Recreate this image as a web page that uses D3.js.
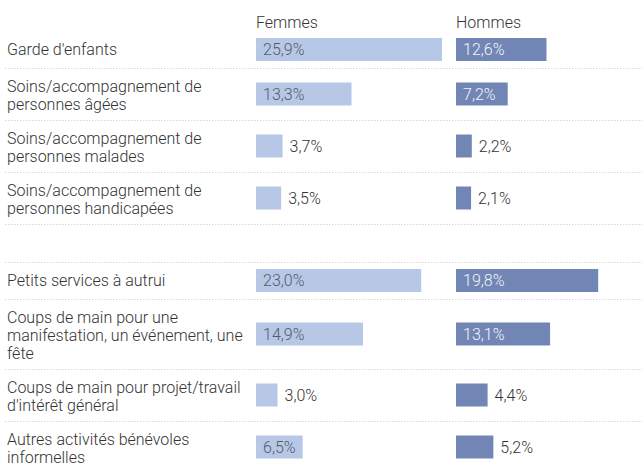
<!DOCTYPE html>
<html>
<head>
<meta charset="utf-8">
<script src="https://cdn.jsdelivr.net/npm/d3@7"></script>
<style>
  body { margin: 0; background: #fff; }
  svg { display: block; font-family: Roboto, "Noto Sans", sans-serif; font-weight: 300; }
</style>
</head>
<body>
<div id="chart"></div>
<script>
const categories = [
  "Garde d'enfants",
  "Soins/accompagnement de personnes âgées",
  "Soins/accompagnement de personnes malades",
  "Soins/accompagnement de personnes handicapées",
  "",
  "Petits services à autrui",
  "Coups de main pour une manifestation, un événement, une fête",
  "Coups de main pour projet/travail d'intérêt général",
  "Autres activités bénévoles informelles"
];
const femmes = [25.9, 13.3, 3.7, 3.5, null, 23.0, 14.9, 3.0, 6.5];
const hommes = [12.6, 7.2, 2.2, 2.1, null, 19.8, 13.1, 4.4, 5.2];
const series = ["Femmes", "Hommes"];

const W = 642, H = 466;
const fs = 16;
const colors = { Femmes: "#b7c7e6", Hommes: "#7286b6" };
const inside = { Femmes: "#555b66", Hommes: "#f2f4f8" };
const colX = { Femmes: 256, Hommes: 456 };

const svg = d3.select("#chart").append("svg").attr("width", W).attr("height", H);

const x = d3.scaleLinear().domain([0, 25.9]).range([0, 186]);
const fmt = v => d3.format(".1f")(v).replace(".", ",") + "%";

// headers
svg.selectAll("text.head").data(series).join("text")
  .attr("class", "head")
  .attr("x", d => colX[d]).attr("y", 28)
  .attr("fill", "#333").attr("font-size", fs)
  .text(d => d);

// wrap labels
const measure = svg.append("text").attr("font-size", fs);
function wrap(s, maxW) {
  if (!s) return [];
  const words = s.split(" ");
  const lines = [];
  let cur = "";
  for (const w of words) {
    const test = cur ? cur + " " + w : w;
    measure.text(test);
    if (cur && measure.node().getComputedTextLength() > maxW) {
      lines.push(cur);
      cur = w;
    } else cur = test;
  }
  lines.push(cur);
  return lines;
}

const rows = [];
let y0 = 31;
categories.forEach((c, i) => {
  const lines = wrap(c, 250);
  const h = lines.length ? Math.max(37, 16 + 18 * lines.length) : 38;
  rows.push({ label: c, lines, y0, h, f: femmes[i], m: hommes[i] });
  y0 += h;
});
measure.remove();

const g = svg.selectAll("g.row").data(rows).join("g")
  .attr("class", "row")
  .attr("transform", d => `translate(0,${d.y0})`);

// separators
g.filter((d, i) => i < rows.length - 1).append("line")
  .attr("x1", 5).attr("x2", W)
  .attr("y1", d => d.h + 0.5).attr("y2", d => d.h + 0.5)
  .attr("stroke", "#d9d9d9").attr("stroke-dasharray", "1.5,1.5");

// labels
g.append("text")
  .attr("font-size", fs).attr("fill", "#333")
  .selectAll("tspan").data(d => d.lines).join("tspan")
  .attr("x", 7).attr("y", (d, i) => 24 + 18 * i)
  .text(d => d);

const barH = 23;
series.forEach(s => {
  const key = s === "Femmes" ? "f" : "m";
  const gg = g.filter(d => d[key] != null);
  gg.append("rect")
    .attr("x", colX[s]).attr("y", d => d.h / 2 - barH / 2)
    .attr("width", d => x(d[key])).attr("height", barH)
    .attr("fill", colors[s]);
  gg.append("text")
    .attr("font-size", fs)
    .attr("y", d => d.h / 2 + 5.5)
    .attr("x", d => x(d[key]) > 45 ? colX[s] + 7 : colX[s] + x(d[key]) + 7)
    .attr("fill", d => x(d[key]) > 45 ? inside[s] : "#333")
    .text(d => fmt(d[key]));
});
</script>
</body>
</html>
